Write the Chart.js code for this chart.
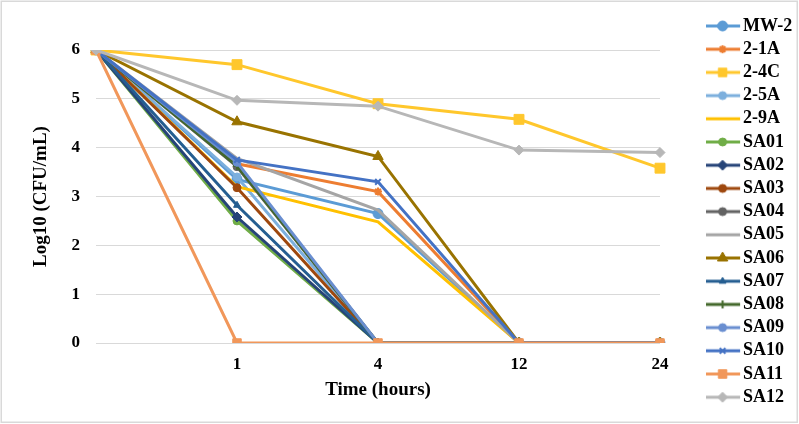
<!DOCTYPE html>
<html>
<head>
<meta charset="utf-8">
<script src="https://cdn.jsdelivr.net/npm/chart.js@4/dist/chart.umd.min.js"></script>
<style>
  html, body { margin: 0; padding: 0; background: #fff; }
  #wrap { width: 799px; height: 424px; position: relative; }
</style>
</head>
<body>
<div id="wrap"><canvas id="c" width="799" height="424"></canvas></div>
<script>
// ---- data ----
const timeLabels = ['', '1', '4', '12', '24'];
const seriesNames = ['MW-2', '2-1A', '2-4C', '2-5A', '2-9A', 'SA01', 'SA02', 'SA03', 'SA04', 'SA05', 'SA06', 'SA07', 'SA08', 'SA09', 'SA10', 'SA11', 'SA12'];
const MW2  = [6, 3.35, 2.65, 0, 0];
const A21  = [6, 3.67, 3.10, 0, 0];
const C24  = [6, 5.70, 4.90, 4.58, 3.58];
const A25  = [6, 3.40, 0, 0, 0];
const A29  = [6, 3.20, 2.48, 0, 0];
const SA01 = [6, 2.50, 0, 0, 0];
const SA02 = [6, 2.58, 0, 0, 0];
const SA03 = [6, 3.18, 0, 0, 0];
const SA04 = [6, 3.61, 0, 0, 0];
const SA05 = [6, 3.78, 2.72, 0, 0];
const SA06 = [6, 4.53, 3.82, 0, 0];
const SA07 = [6, 2.82, 0, 0, 0];
const SA08 = [6, 3.63, 0, 0, 0];
const SA09 = [6, 3.70, 0, 0, 0];
const SA10 = [6, 3.75, 3.30, 0, 0];
const SA11 = [6, 0, 0, 0, 0];
const SA12 = [6, 4.97, 4.85, 3.95, 3.90];
const seriesValues = [MW2, A21, C24, A25, A29, SA01, SA02, SA03, SA04, SA05, SA06, SA07, SA08, SA09, SA10, SA11, SA12];
const yTicks = [0, 1, 2, 3, 4, 5, 6];

// ---- styles ----
const colors  = ['#5B9BD5', '#ED7D31', '#FFC72C', '#7CAFDD', '#FFC000', '#70AD47', '#264478', '#9E480E', '#636363', '#A5A5A5', '#997300', '#255E91', '#43682B', '#698ED0', '#4472C4', '#F1975A', '#B7B7B7'];
const styles  = ['circle', 'star', 'rect', 'circle', 'circle', 'circle', 'rectRot', 'circle', 'circle', 'circle', 'triangle', 'triangle', 'cross', 'circle', 'crossRot', 'rect', 'rectRot'];
const radii   = [5, 4, 7, 4, 0, 4, 5, 4, 4, 0, 6, 4, 4, 4, 4, 6, 5];

const FONT = "'Liberation Serif', 'Times New Roman', serif";
const N = seriesNames.length;

const datasets = seriesNames.map((name, i) => ({
  label: name,
  data: seriesValues[i],
  borderColor: colors[i],
  backgroundColor: colors[i],
  pointBackgroundColor: colors[i],
  pointBorderColor: colors[i],
  pointStyle: styles[i],
  pointRadius: radii[i],
  pointHoverRadius: radii[i],
  pointBorderWidth: (styles[i] === 'star' || styles[i] === 'cross' || styles[i] === 'crossRot') ? 2 : 1,
  borderWidth: 3,
  tension: 0,
  fill: false,
  order: N - i
}));

function legendIcon(i) {
  const c = document.createElement('canvas');
  c.width = 37; c.height = 14;
  const ctx = c.getContext('2d');
  ctx.strokeStyle = colors[i];
  ctx.fillStyle = colors[i];
  ctx.lineWidth = 3;
  ctx.beginPath(); ctx.moveTo(1, 7); ctx.lineTo(36, 7); ctx.stroke();
  if (radii[i] > 0) {
    const st = styles[i];
    ctx.lineWidth = (st === 'star' || st === 'cross' || st === 'crossRot') ? 2 : 1;
    const r = Math.min(radii[i], 6);
    if (Chart.helpers && Chart.helpers.drawPoint) {
      Chart.helpers.drawPoint(ctx, {pointStyle: st, radius: r, borderWidth: ctx.lineWidth, rotation: 0}, 18.5, 7);
    } else {
      ctx.beginPath(); ctx.arc(18.5, 7, r, 0, Math.PI * 2); ctx.fill();
    }
  }
  return c;
}

const frame = {
  id: 'frame',
  afterDraw(chart) {
    const ctx = chart.ctx;
    ctx.save();
    ctx.strokeStyle = '#D9D9D9';
    ctx.lineWidth = 1.5;
    ctx.strokeRect(1.25, 1.25, 796, 421);
    ctx.restore();
  }
};

new Chart(document.getElementById('c'), {
  type: 'line',
  data: { labels: timeLabels, datasets },
  plugins: [frame],
  options: {
    responsive: false,
    animation: false,
    events: [],
    layout: { padding: { top: 11.8, right: 0, bottom: 0, left: 0 } },
    plugins: {
      tooltip: { enabled: false },
      title: { display: false },
      legend: {
        display: true,
        position: 'right',
        align: 'start',
        maxWidth: 93,
        labels: {
          usePointStyle: true,
          pointStyleWidth: 22.8,
          padding: 5.2,
          color: '#000',
          font: { family: FONT, size: 18, weight: 'bold' },
          generateLabels: () => seriesNames.map((name, i) => ({
            text: name,
            pointStyle: legendIcon(i),
            fillStyle: colors[i],
            strokeStyle: colors[i],
            lineWidth: 0,
            hidden: false,
            datasetIndex: i,
            fontColor: '#000'
          }))
        }
      }
    },
    scales: {
      x: {
        type: 'category',
        position: 'bottom',
        offset: false,
        grid: { display: false, drawTicks: false },
        border: { display: false },
        ticks: { color: '#000', padding: 11, maxRotation: 0, autoSkip: false, font: { family: FONT, size: 17, weight: 'bold' } },
        title: { display: true, text: 'Time (hours)', color: '#000', padding: { top: 4, bottom: 22.6 }, font: { family: FONT, size: 19, weight: 'bold' } },
        afterFit(s) { s.height = 81; }
      },
      xTop: {
        type: 'category',
        position: 'top',
        display: true,
        grid: { display: false, drawTicks: false },
        border: { display: false },
        ticks: { display: false },
        afterFit(s) { s.height = 38.2; }
      },
      y: {
        type: 'linear',
        position: 'left',
        min: 0,
        max: 6,
        afterBuildTicks(s) { s.ticks = yTicks.map(v => ({ value: v })); },
        grid: { color: '#D9D9D9', lineWidth: 1, drawTicks: false },
        border: { display: false },
        ticks: { color: '#000', padding: 16, font: { family: FONT, size: 17, weight: 'bold' } },
        title: { display: true, text: 'Log10 (CFU/mL)', color: '#000', padding: { top: 29.6, bottom: 4 }, font: { family: FONT, size: 19, weight: 'bold' } },
        afterFit(s) { s.width = 96; }
      },
      yRight: {
        type: 'linear',
        position: 'right',
        display: true,
        grid: { display: false, drawTicks: false },
        border: { display: false },
        ticks: { display: false },
        afterFit(s) { s.width = 46; }
      }
    }
  }
});
</script>
</body>
</html>
